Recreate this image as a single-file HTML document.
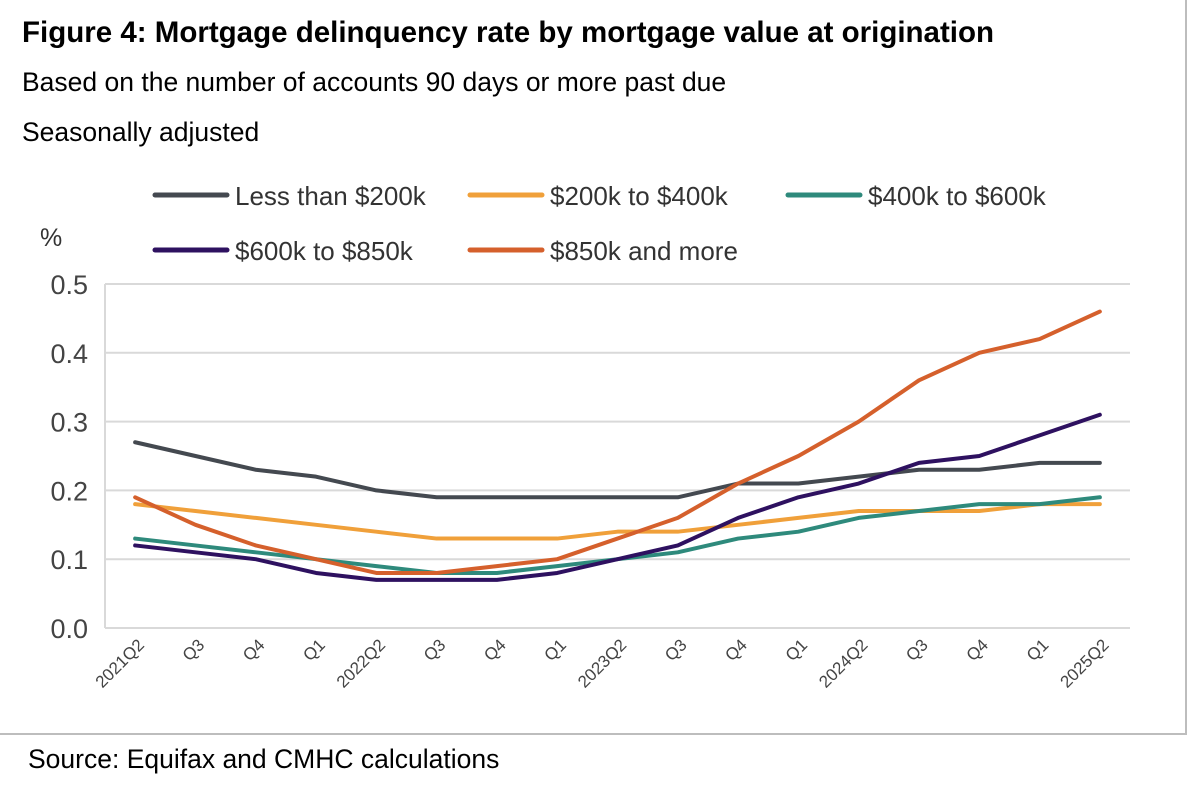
<!DOCTYPE html>
<html><head><meta charset="utf-8"><style>
body{margin:0;background:#fff;width:1200px;height:782px;overflow:hidden;font-family:"Liberation Sans",sans-serif;}
</style></head><body>
<svg width="1200" height="782" xmlns="http://www.w3.org/2000/svg" font-family="Liberation Sans, sans-serif">
<line x1="1186" y1="0" x2="1186" y2="735" stroke="#bdbdbd" stroke-width="2"/>
<line x1="0" y1="734" x2="1187" y2="734" stroke="#bdbdbd" stroke-width="2"/>
<text x="22" y="42" font-size="29.5" font-weight="bold" fill="#000">Figure 4: Mortgage delinquency rate by mortgage value at origination</text>
<text x="22" y="91" font-size="26.5" fill="#000">Based on the number of accounts 90 days or more past due</text>
<text x="22" y="141" font-size="26.5" fill="#000">Seasonally adjusted</text>
<text x="40" y="246" font-size="25" fill="#333">%</text>
<text x="28" y="768" font-size="26.5" fill="#000">Source: Equifax and CMHC calculations</text>
<g id="grid"></g><g id="lines"></g><g id="legend"></g>
</svg>
<script>
const categories=["2021Q2","Q3","Q4","Q1","2022Q2","Q3","Q4","Q1","2023Q2","Q3","Q4","Q1","2024Q2","Q3","Q4","Q1","2025Q2"];
const yTicks=[0,0.1,0.2,0.3,0.4,0.5];
const seriesNames=["Less than $200k","$200k to $400k","$400k to $600k","$600k to $850k","$850k and more"];
const seriesColors=["#444950","#f0a03a","#2e8a7c","#2e1160","#d5602c"];
const sLess200=[0.27,0.25,0.23,0.22,0.20,0.19,0.19,0.19,0.19,0.19,0.21,0.21,0.22,0.23,0.23,0.24,0.24];
const s200to400=[0.18,0.17,0.16,0.15,0.14,0.13,0.13,0.13,0.14,0.14,0.15,0.16,0.17,0.17,0.17,0.18,0.18];
const s400to600=[0.13,0.12,0.11,0.10,0.09,0.08,0.08,0.09,0.10,0.11,0.13,0.14,0.16,0.17,0.18,0.18,0.19];
const s600to850=[0.12,0.11,0.10,0.08,0.07,0.07,0.07,0.08,0.10,0.12,0.16,0.19,0.21,0.24,0.25,0.28,0.31];
const s850plus=[0.19,0.15,0.12,0.10,0.08,0.08,0.09,0.10,0.13,0.16,0.21,0.25,0.30,0.36,0.40,0.42,0.46];
const allSeries=[sLess200,s200to400,s400to600,s600to850,s850plus];
const NS="http://www.w3.org/2000/svg";
const L=105,R=1130,T=284,B=628;
const step=(R-L)/categories.length;
const xs=i=>L+step*(i+0.5);
const ys=v=>B-(v/0.5)*(B-T);
function mk(t,a,p){const e=document.createElementNS(NS,t);for(const k in a)e.setAttribute(k,a[k]);p.appendChild(e);return e;}
const grid=document.getElementById('grid');
yTicks.forEach(v=>{
 const g=mk('line',{x1:L,x2:R,y1:ys(v),y2:ys(v),stroke:'#d9d9d9','stroke-width':2},grid);
 
 
 const t=mk('text',{x:88,y:ys(v)+10,'text-anchor':'end','font-size':27,fill:'#444'},grid);
 t.textContent=v.toFixed(1);
 
 
});
const ax=mk('line',{x1:L,x2:L,y1:T,y2:B,stroke:'#d9d9d9','stroke-width':2},grid);


categories.forEach((c,i)=>{
 const x=xs(i)+10,y=646;
 const t=mk('text',{x:x,y:y,'text-anchor':'end','font-size':17,fill:'#444',transform:`rotate(-45 ${x} ${y})`},grid);
 t.textContent=c;
 
 
});
const lines=document.getElementById('lines');
allSeries.forEach((s,k)=>{
 const p=mk('polyline',{points:s.map((v,i)=>xs(i)+','+ys(v)).join(' '),fill:'none',stroke:seriesColors[k],'stroke-width':4,'stroke-linejoin':'round','stroke-linecap':'round'},lines);
 
 
});
const lg=document.getElementById('legend');
const lpos=[[155,195],[470,195],[788,195],[155,250],[470,250]];
seriesNames.forEach((n,k)=>{
 const [x,y]=lpos[k];
 const ln=mk('line',{x1:x,x2:x+72,y1:y,y2:y,stroke:seriesColors[k],'stroke-width':5,'stroke-linecap':'round'},lg);
 
 
 const t=mk('text',{x:x+80,y:y+10,'font-size':26,fill:'#333'},lg);
 t.textContent=n;
 
 
});
</script>
</body></html>
